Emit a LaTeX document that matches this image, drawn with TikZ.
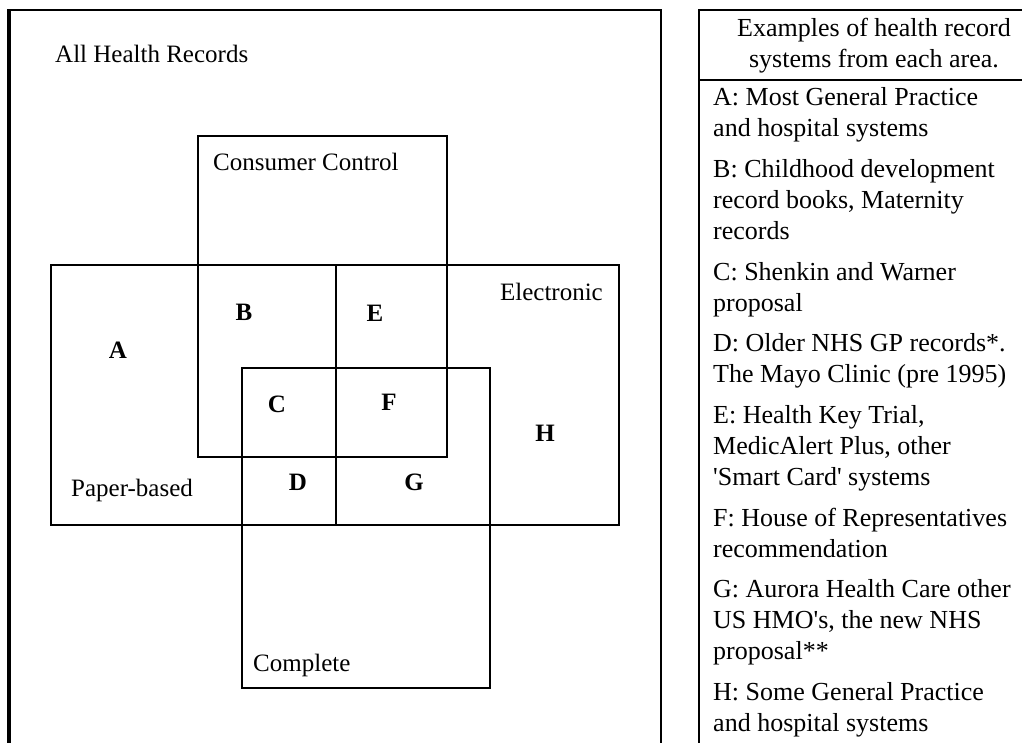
\documentclass[tikz,border=0pt]{standalone}
\usepackage{fontspec}
\setmainfont{Liberation Serif}
\usetikzlibrary{positioning}

\begin{document}
\begin{tikzpicture}[
    x=1pt, y=-1pt,
    frame/.style={draw=black, line width=2.6pt},
    region/.style={draw=black, line width=2pt},
    setlabel/.style={font=\fontsize{25}{30}\selectfont, inner sep=0pt, anchor=base west},
    arealetter/.style={font=\fontsize{25}{30}\selectfont\bfseries, inner sep=0pt},
    entry/.style={font=\fontsize{26}{31}\selectfont, inner sep=0pt, anchor=base west},
    headline/.style={font=\fontsize{26}{31}\selectfont, inner sep=0pt, anchor=base}
]
\useasboundingbox (0,0) rectangle (1022,743);
\fill[white] (0,0) rectangle (1022,743);
\clip (0,0) rectangle (1022,743);

% Left panel
\draw[frame] (8,10) rectangle (661,790);
\draw[line width=4.5pt] (9,10) -- (9,790);
\node[setlabel] (all) at (55,63) {All Health Records};

% The three sets
\draw[region] (198,136) rectangle (447,457);
\draw[region] (51,265) rectangle (619,525);
\draw[region] (242,368) rectangle (490,688);
\draw[region] (336,265) -- (336,525);

\node[setlabel] (consumer) at (213,171) {Consumer Control};
\node[setlabel, anchor=base east] (electronic) at (603,300) {Electronic};
\node[setlabel] (paper) at (71,496) {Paper-based};
\node[setlabel] (complete) at (253,671) {Complete};

% Areas
\node[arealetter] (a) at (118,350) {A};
\node[arealetter] (b) at (244,312) {B};
\node[arealetter] (c) at (277,404) {C};
\node[arealetter] (d) at (298,482) {D};
\node[arealetter] (e) at (375,313) {E};
\node[arealetter] (f) at (389,402) {F};
\node[arealetter] (g) at (414,482) {G};
\node[arealetter] (h) at (545,433) {H};

% Right panel
\draw[region] (699,790) -- (699,10) -- (1060,10);
\draw[region] (699,80) -- (1060,80);
\node[headline] (head1) at (874,37) {Examples of health record};
\node[headline] (head2) at (874,68) {systems from each area.};

\foreach \y/\t [count=\i] in {
    106/{A: Most General Practice},
    137/{and hospital systems},
    177.6/{B: Childhood development},
    208.6/{record books, Maternity},
    239.6/{records},
    280.2/{C: Shenkin and Warner},
    311.2/{proposal},
    351.8/{D: Older NHS GP records*.},
    382.8/{The Mayo Clinic (pre 1995)},
    423.4/{E: Health Key Trial,},
    454.4/{MedicAlert Plus, other},
    485.4/{\textquotesingle Smart Card\textquotesingle\ systems},
    526/{F: House of Representatives},
    557/{recommendation},
    597.6/{G: Aurora Health Care other},
    628.6/{US HMO\textquotesingle s, the new NHS},
    659.6/{proposal**},
    700.2/{H: Some General Practice},
    731.2/{and hospital systems}}
  \node[entry] (line\i) at (713,\y) {\t};

\end{tikzpicture}
\end{document}
